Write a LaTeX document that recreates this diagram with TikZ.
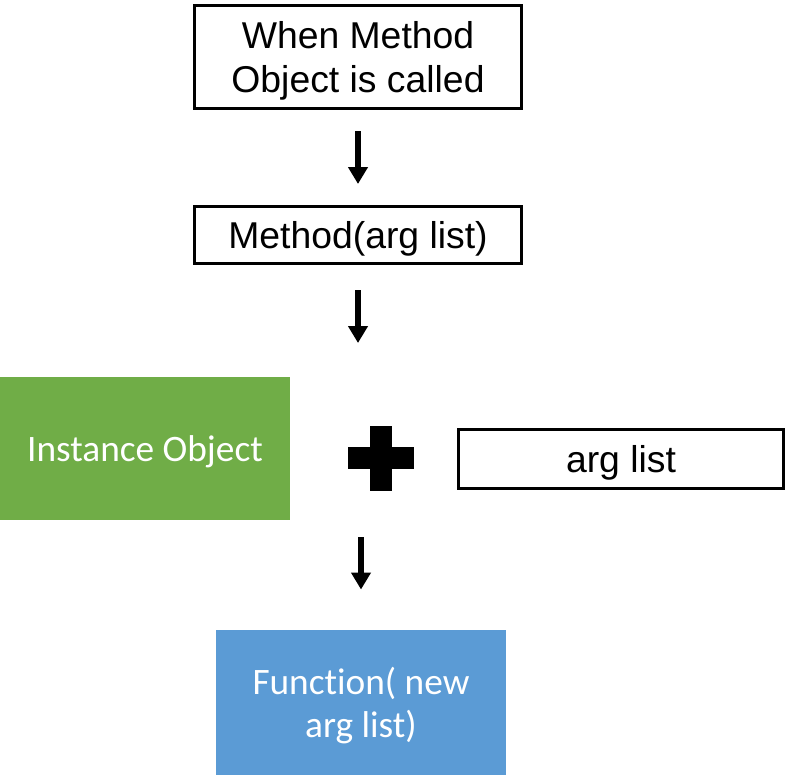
\documentclass[tikz,border=0pt]{standalone}
\usepackage{fontspec}
\setmainfont{Liberation Sans}
\newfontfamily\calibrifont[Ligatures=NoCommon]{Carlito}
\usetikzlibrary{arrows.meta}

\tikzset{every picture/.style={line width=0.75pt}}
\tikzset{
	plainbox/.style={draw, line width=2.25pt, fill=white, inner sep=0pt, align=center, text depth=0pt, font=\fontsize{28}{32.5}\selectfont},
	colourbox/.style={inner sep=0pt, align=center, text=white, text depth=0pt, font=\calibrifont\fontsize{28}{32.5}\selectfont},
	downarrow/.style={line width=4.5pt, -{Triangle[width=14.25pt, length=12.75pt]}}
}
\definecolor{instgreen}{RGB}{112,173,71}
\definecolor{funcblue}{RGB}{91,155,213}

\begin{document}
\begin{tikzpicture}[x=0.75pt,y=0.75pt,yscale=-1,xscale=1]
	\useasboundingbox (0,0) rectangle (791,775);
	
	% Text Node
	\node [plainbox, minimum width=245.25pt, minimum height=77.25pt] (call) at (358,57) {When Method\\Object is called};
	% Text Node
	\node [plainbox, minimum width=245.25pt, minimum height=42.75pt] (method) at (358,235) {Method(arg list)};
	% Shape: Rectangle green
	\node [colourbox, fill=instgreen, minimum width=217.5pt, minimum height=107.25pt] (inst) at (145,448.5) {Instance Object};
	% Text Node
	\node [plainbox, minimum width=243.75pt, minimum height=44.25pt] (args) at (621,459) {arg list};
	% Shape: Rectangle blue
	\node [colourbox, fill=funcblue, minimum width=217.5pt, minimum height=108.75pt] (func) at (361,702.5) {Function( new\\arg list)};
	
	% Shape: Plus
	\fill (370,426) rectangle (392,491);
	\fill (348,447) rectangle (414,469);
	
	\coordinate (join) at (358,377);
	\coordinate (split) at (361,520);
	
	% Straight Lines
	\draw [downarrow, shorten <=15.75pt, shorten >=15.75pt] (call.south) -- (method.north);
	\draw [downarrow, shorten <=18.75pt, shorten >=25.5pt] (method.south) -- (join);
	\draw [downarrow, shorten <=12.75pt, shorten >=30pt] (split) -- (func.north);
	
\end{tikzpicture}
\end{document}
